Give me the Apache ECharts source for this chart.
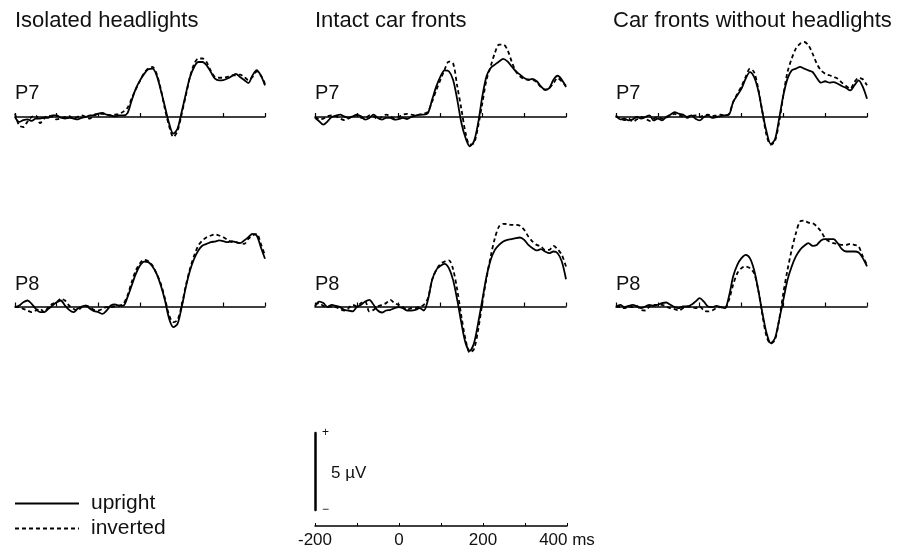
<!DOCTYPE html>
<html>
<head>
<meta charset="utf-8">
<script src="https://cdn.jsdelivr.net/npm/echarts@6/dist/echarts.min.js"></script>
<style>
  html, body { margin: 0; padding: 0; background: #fff; }
  #chart { width: 898px; height: 555px; }
</style>
</head>
<body>
<div id="chart"></div>
<script>
// time points, ms
const times = [
  -200, -190, -180, -170, -160, -150, -140, -130, -120, -110,
  -100, -90, -80, -70, -60, -50, -40, -30, -20, -10,
  0, 10, 20, 30, 40, 50, 60, 70, 80, 90,
  100, 110, 120, 130, 140, 150, 160, 170, 180, 190,
  200, 210, 220, 230, 240, 250, 260, 270, 280, 290,
  300, 310, 320, 330, 340, 350, 360, 370, 380, 390,
  400
];
const panelTitles = ["Isolated headlights", "Intact car fronts", "Car fronts without headlights"];
const channels = ["P7", "P8"];
const conditions = ["upright", "inverted"];
const scaleTicks = [-200, 0, 200, 400];

// amplitudes, µV
const isoP7Up = [
  0, -0.32, -0.2, -0.15, -0.25, -0.1, -0.1, -0.05, -0.05, 0.1,
  0.1, -0.05, -0.1, -0.05, -0.1, -0.15, -0.05, 0, 0.1, 0.1,
  0.22, 0.26, 0.15, 0.1, 0.05, 0.1, 0.1, 0.25, 1.08, 1.84,
  2.38, 2.8, 3.1, 3.14, 2.7, 1.73, 0.65, -0.43, -1.08, -0.76,
  0.32, 1.5, 2.6, 3.25, 3.57, 3.57, 3.35, 2.92, 2.49, 2.38,
  2.4, 2.5, 2.65, 2.8, 2.6, 2.4, 2.2, 2.7, 3.05, 2.7,
  2.05
];
const isoP7Inv = [
  0.22, -0.55, -0.65, -0.3, 0.0, 0.1, -0.4, -0.1, 0.1, 0.0,
  -0.15, -0.1, 0.0, 0.05, -0.1, 0.0, 0.1, 0.0, -0.1, 0.15,
  0.2, 0.2, 0.15, 0.1, 0.15, 0.2, 0.35, 0.6, 1.2, 1.8,
  2.35, 2.85, 3.15, 3.25, 2.8, 1.8, 0.5, -0.6, -1.3, -0.9,
  0.2, 1.4, 2.6, 3.45, 3.8, 3.8, 3.55, 3.0, 2.6, 2.55,
  2.55, 2.6, 2.7, 2.7, 2.75, 2.6, 2.4, 2.6, 2.95, 2.7,
  2.15
];
const intactP7Up = [
  -0.06, -0.28, -0.5, -0.28, 0, 0.09, 0.15, 0.04, -0.06, 0.04,
  0.15, 0.04, -0.17, -0.06, 0.15, -0.06, -0.17, -0.06, -0.06, -0.17,
  -0.13, -0.06, -0.13, 0, 0.09, 0.15, 0.15, 0.26, 1.13, 1.99,
  2.64, 3.03, 2.97, 2.42, 1.13, -0.39, -1.36, -1.9, -1.58, -0.39,
  1.34, 2.64, 3.18, 3.4, 3.61, 3.77, 3.61, 3.29, 2.97, 2.75,
  2.53, 2.42, 2.47, 2.32, 1.99, 1.77, 1.88, 2.42, 2.68, 2.42,
  1.95
];
const intactP7Inv = [
  0.0, -0.15, -0.1, 0.05, 0.1, 0.05, -0.1, -0.2, -0.1, 0.05,
  0.1, -0.05, -0.1, 0.1, 0.05, -0.15, 0.0, 0.15, 0.05, -0.1,
  0.0, 0.15, 0.2, 0.15, 0.1, 0.15, 0.2, 0.35, 1.0, 1.75,
  2.42, 3.1, 3.6, 3.5, 2.0, 0.5, -1.05, -1.8, -1.7, -0.6,
  0.9, 2.42, 3.29, 4.16, 4.7, 4.7, 4.37, 3.61, 2.97, 2.64,
  2.47, 2.42, 2.42, 2.25, 1.95, 1.77, 1.88, 2.2, 2.53, 2.3,
  2.03
];
const noLightP7Up = [
  0.11, -0.15, -0.11, -0.22, -0.15, 0, -0.11, 0, 0.11, -0.22,
  -0.11, -0.22, 0, 0.15, 0.32, 0.22, 0.15, 0, 0.11, -0.11,
  -0.22, 0, 0.11, -0.06, 0, 0.06, 0.11, 0.15, 0.97, 1.41,
  1.84, 2.49, 2.92, 2.6, 1.73, 0.32, -0.97, -1.75, -1.45, -0.11,
  1.41, 2.49, 3.03, 3.14, 3.25, 3.14, 3.03, 2.92, 2.53, 2.23,
  2.32, 2.23, 2.27, 2.16, 2.01, 1.88, 1.73, 2.06, 2.38, 1.95,
  1.19
];
const noLightP7Inv = [
  0.05, -0.1, -0.2, -0.1, -0.3, -0.15, 0.0, -0.1, -0.25, -0.1,
  0.0, -0.1, -0.05, 0.1, 0.2, 0.1, 0.05, -0.05, 0.05, 0.1,
  0.0, 0.1, 0.15, 0.05, 0.1, 0.15, 0.1, 0.2, 0.97, 1.5,
  2.0, 2.6, 3.14, 2.92, 1.84, 0.32, -1.19, -1.8, -1.55, -0.32,
  1.41, 2.92, 3.79, 4.44, 4.76, 4.87, 4.66, 4.11, 3.46, 3.03,
  2.81, 2.71, 2.6, 2.49, 2.23, 2.01, 1.84, 2.27, 2.53, 2.45,
  2.06
];
const isoP8Up = [
  -0.04, 0.06, 0.28, 0.39, 0.17, -0.15, -0.37, -0.37, -0.15, 0.06,
  0.28, 0.39, 0.06, -0.22, -0.37, -0.15, 0, 0.06, -0.15, -0.3,
  -0.37, -0.48, -0.26, 0.06, 0.13, 0.06, 0.06, 0.61, 1.36, 2.12,
  2.66, 2.92, 2.88, 2.6, 2.12, 1.36, 0.39, -0.8, -1.34, -1.13,
  -0.04, 1.26, 2.34, 3.1, 3.64, 3.96, 4.07, 4.18, 4.22, 4.29,
  4.24, 4.18, 4.24, 4.18, 4.11, 4.29, 4.5, 4.72, 4.61, 3.85,
  3.1
];
const isoP8Inv = [
  -0.04, -0.04, -0.15, -0.26, -0.37, -0.26, -0.15, -0.37, -0.04, 0.17,
  0.28, 0.5, 0.39, 0.06, -0.15, -0.26, -0.04, 0.06, -0.04, -0.22,
  -0.26, -0.15, -0.04, -0.04, 0, 0.06, 0.17, 0.71, 1.58, 2.34,
  2.81, 3.03, 2.94, 2.66, 2.12, 1.47, 0.5, -0.58, -1.02, -0.87,
  0.06, 1.36, 2.45, 3.31, 3.96, 4.29, 4.5, 4.61, 4.68, 4.61,
  4.5, 4.33, 4.18, 4.18, 4.11, 4.07, 4.39, 4.61, 4.72, 4.07,
  3.31
];
const intactP8Up = [
  0, 0.32, 0.22, -0.04, 0.11, 0.04, -0.04, -0.22, -0.26, -0.32,
  -0.04, 0.11, 0.32, 0.43, 0.11, -0.26, -0.39, -0.26, -0.22, -0.11,
  -0.04, -0.11, -0.26, -0.26, -0.22, -0.11, -0.26, 0.43, 1.73, 2.38,
  2.64, 2.77, 2.49, 1.73, 0.43, -1.08, -2.38, -2.88, -2.38, -1.08,
  0.43, 1.95, 3.03, 3.68, 4.0, 4.22, 4.33, 4.37, 4.44, 4.48,
  4.33, 4.0, 3.79, 3.64, 3.72, 3.57, 3.46, 3.57, 3.46, 2.92,
  1.77
];
const intactP8Inv = [
  0.11, 0.22, 0.04, 0, 0, -0.04, -0.17, -0.26, -0.11, 0.11,
  0, 0.22, 0.32, -0.32, -0.22, 0, 0.11, 0.22, 0.43, 0.22,
  0.11, -0.04, -0.22, -0.11, -0.11, 0, 0.11, 0.54, 1.73, 2.38,
  2.77, 2.92, 3.0, 2.43, 1.08, -0.65, -2.16, -2.99, -2.77, -1.52,
  0.22, 1.84, 3.25, 4.44, 5.2, 5.37, 5.35, 5.3, 5.3, 5.24,
  4.98, 4.55, 4.22, 4.0, 3.9, 3.68, 3.68, 3.94, 3.72, 3.35,
  2.6
];
const noLightP8Up = [
  0, 0.11, -0.04, 0.04, 0.11, 0, -0.11, 0, 0.11, 0.04,
  0.11, 0.22, 0.26, 0.11, -0.04, -0.11, 0, 0, 0.11, 0.32,
  0.54, 0.32, 0, -0.04, 0.04, -0.04, -0.11, 0.65, 1.95, 2.71,
  3.14, 3.35, 3.14, 2.38, 1.08, -0.43, -1.73, -2.38, -2.06, -0.87,
  0.43, 1.73, 2.6, 3.25, 3.68, 3.94, 4.11, 3.94, 4.0, 4.29,
  4.37, 4.37, 4.37, 4.11, 3.72, 3.57, 3.57, 3.57, 3.51, 3.14,
  2.6
];
const noLightP8Inv = [
  0, -0.04, -0.11, 0, -0.04, 0.04, -0.22, -0.26, 0, 0.11,
  0.11, 0.11, 0, -0.11, -0.17, -0.26, -0.11, 0, -0.04, -0.11,
  0, -0.26, -0.32, -0.26, -0.11, -0.04, -0.11, 0.43, 1.41, 2.16,
  2.49, 2.6, 2.49, 2.16, 1.08, -0.54, -1.95, -2.42, -2.16, -0.87,
  0.87, 2.38, 3.68, 4.76, 5.52, 5.58, 5.45, 5.41, 5.2, 4.87,
  4.44, 4.22, 4.11, 4.07, 4.0, 4.0, 4.07, 4.0, 3.9, 3.25,
  2.71
];

// row-major: P7 row then P8 row, each [upright, inverted]
const panels = [
  [isoP7Up, isoP7Inv], [intactP7Up, intactP7Inv], [noLightP7Up, noLightP7Inv],
  [isoP8Up, isoP8Inv], [intactP8Up, intactP8Inv], [noLightP8Up, noLightP8Inv]
];

const FONT = "Liberation Sans";
const colLeft = [15, 315, 616];
const colWidth = [250, 251, 251];
const rowTop = [24.6, 214.1]; // puts 0 µV at y=117 / 306.5
const gridH = 154;            // 10 µV

const chart = echarts.init(document.getElementById("chart"));

const grid = [], xAxis = [], yAxis = [], series = [];
panels.forEach((pair, i) => {
  const r = Math.floor(i / 3), c = i % 3;
  grid.push({ left: colLeft[c], top: rowTop[r], width: colWidth[c], height: gridH });
  xAxis.push({
    gridIndex: i, type: "value", min: -200, max: 400, interval: 100,
    axisLine: { onZero: true, lineStyle: { color: "#000", width: 1.5 } },
    axisTick: { inside: true, length: 4, lineStyle: { color: "#000", width: 1.2 } },
    axisLabel: { show: false }, splitLine: { show: false }
  });
  yAxis.push({ gridIndex: i, type: "value", min: -4, max: 6, show: false, splitLine: { show: false } });
  pair.forEach((vals, k) => {
    series.push({
      name: conditions[k], type: "line", xAxisIndex: i, yAxisIndex: i,
      data: times.map((t, j) => [t, vals[j]]),
      symbol: "none", smooth: 0.3, color: "#000",
      lineStyle: { color: "#000", width: 1.8, type: k === 0 ? "solid" : [4, 3] }
    });
  });
});

// scale bar
grid.push({ left: 315, top: 433, width: 252, height: 77 });
xAxis.push({
  gridIndex: 6, type: "value", min: -200, max: 400, interval: 100, position: "bottom", offset: 16,
  axisLine: { onZero: false, lineStyle: { color: "#000", width: 1.5 } },
  axisTick: { inside: true, length: 3, lineStyle: { color: "#000" } },
  axisLabel: {
    margin: 6, color: "#111", fontSize: 17, fontFamily: FONT,
    formatter: v => scaleTicks.indexOf(v) < 0 ? "" : (v === 400 ? "400 ms" : String(v))
  },
  splitLine: { show: false }
});
yAxis.push({
  gridIndex: 6, type: "value", min: 0, max: 5, interval: 5, position: "left",
  axisLine: { show: true, onZero: false, lineStyle: { color: "#000", width: 2.5 } },
  axisTick: { show: false }, splitLine: { show: false },
  axisLabel: { inside: true, margin: 7, color: "#111", fontSize: 12, fontFamily: FONT,
    formatter: v => v === 5 ? "+" : (v === 0 ? "−" : "") }
});

const txt = (text, left, top, size) => ({
  text, left, top, padding: 0,
  textStyle: { fontSize: size, fontWeight: "normal", color: "#111", fontFamily: FONT }
});
const titles = [];
panelTitles.forEach((t, c) => titles.push(txt(t, colLeft[c] - (c === 2 ? 3 : 0), 10, 22)));
channels.forEach((ch, r) => colLeft.forEach(l => titles.push(txt(ch, l, r === 0 ? 83 : 274, 20))));
titles.push(txt("5 µV", 331, 465, 17));

chart.setOption({
  animation: false,
  backgroundColor: "#fff",
  title: titles,
  legend: {
    data: conditions, orient: "vertical", left: 14, top: 493, padding: 0,
    itemWidth: 64, itemHeight: 14, itemGap: 4,
    itemStyle: { opacity: 0 },
    textStyle: { fontSize: 21, color: "#111", fontFamily: FONT, padding: [0, 0, 0, 7] }
  },
  grid, xAxis, yAxis, series
});
</script>
</body>
</html>
